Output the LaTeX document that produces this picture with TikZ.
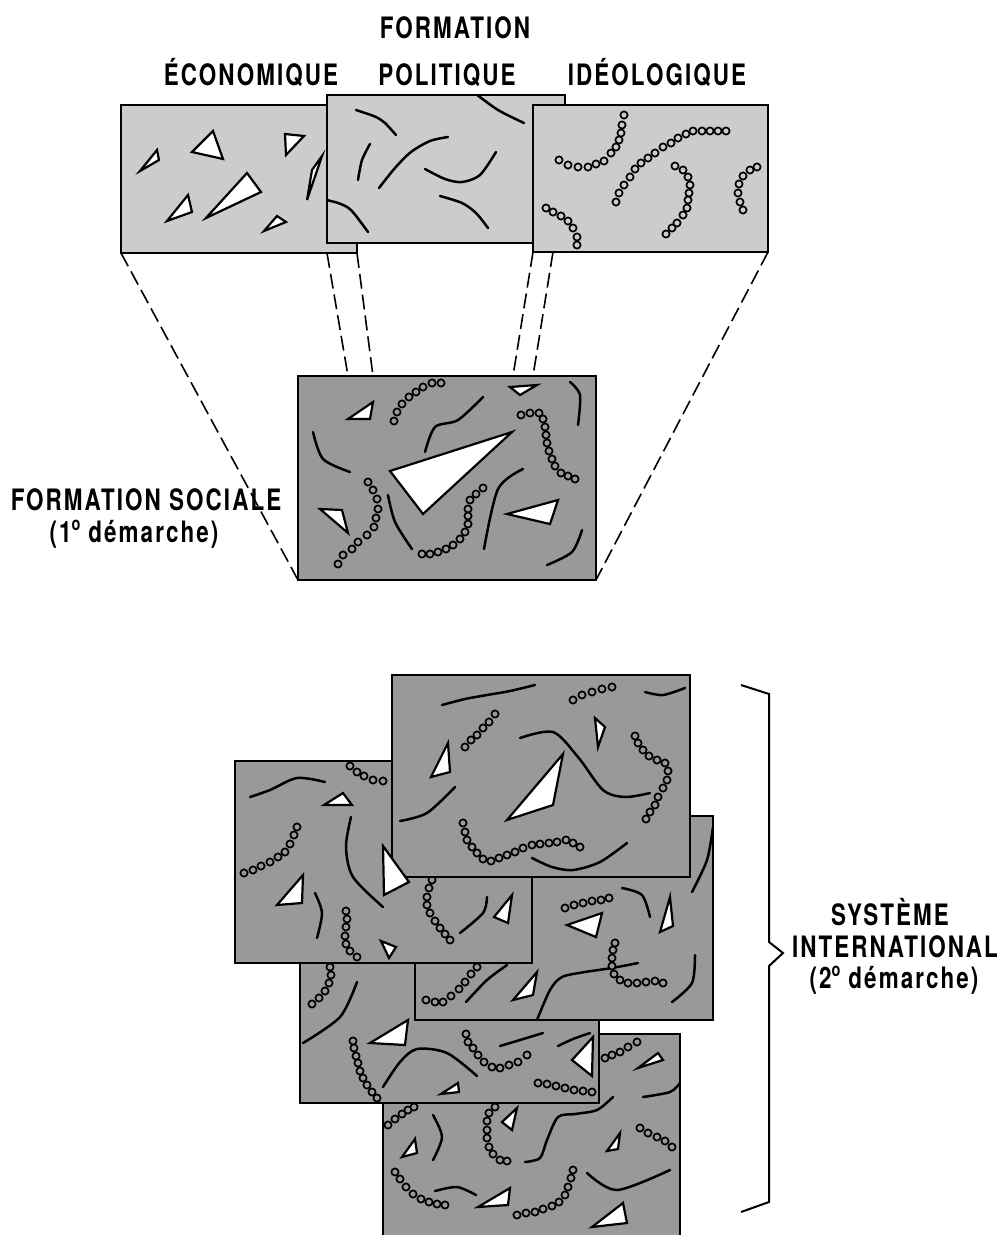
\documentclass[tikz,border=0pt]{standalone}
\usepackage{fontspec}
\newfontfamily\labfont[FakeStretch=0.76,LetterSpace=7]{TeX Gyre Heros}
\definecolor{lightp}{gray}{0.80}
\definecolor{darkp}{gray}{0.60}
\newcommand\myordo{\raisebox{0.7ex}{\fontsize{19}{19}\selectfont o}\hspace{8pt}}
\newcommand\beadchain[2]{\foreach \bp in {#2} {\draw[bead=#1] \bp circle (3.6pt);}}
\tikzset{
  pfill/.style={rectangle, fill=#1, draw=none, inner sep=0pt, outer sep=0pt},
  frame/.style={draw=black, line width=2pt},
  tri/.style={draw=black, fill=white, line width=2.2pt, line join=miter},
  crv/.style={draw=black, line width=2.5pt, line cap=round},
  bead/.style={draw=black, line width=1.7pt, fill=#1},
  proj/.style={draw=black, line width=1.6pt, dash pattern=on 15pt off 6pt},
  lab/.style={font=\labfont\bfseries\fontsize{29.5}{32}\selectfont, inner sep=0pt, anchor=base},
  brace/.style={draw=black, line width=2pt, line join=miter}
}
\begin{document}
\begin{tikzpicture}[x=1pt,y=-1pt]
\useasboundingbox (0,0) rectangle (1008,1235);

% ---------------- labels -----------------
\node[lab] (formation) at (455,38) {FORMATION};
\node[lab] (ecol) at (251,85) {ÉCONOMIQUE};
\node[lab] (poll) at (447,85) {POLITIQUE};
\node[lab] (ideol) at (657,85) {IDÉOLOGIQUE};

% ---------------- economique -----------------
\node[pfill=lightp, minimum width=236pt, minimum height=148pt] (eco) at (239,179) {};
\begin{scope}
\clip (eco.south west) rectangle (eco.north east);
\draw[tri] (140,171) -- (157,150) -- (159,160) -- cycle;
\draw[tri] (192,152) -- (213,131) -- (223,159) -- cycle;
\draw[tri] (285,134) -- (304,136) -- (286,155) -- cycle;
\draw[tri] (307,200) -- (312,170) -- (322,156) -- cycle;
\draw[tri] (206,218) -- (247,173) -- (261,192) -- cycle;
\draw[tri] (167,221) -- (188,195) -- (192,212) -- cycle;
\draw[tri] (264,231) -- (277,216) -- (286,222) -- cycle;
\end{scope}
\draw[frame] (eco.south west) rectangle (eco.north east);

% ---------------- politique -----------------
\node[pfill=lightp, minimum width=238pt, minimum height=148pt] (pol) at (446,169) {};
\begin{scope}
\clip (pol.south west) rectangle (pol.north east);
\draw[crv] plot[smooth] coordinates {(356,110) (365,113) (376,117) (385,123) (396,135)};
\draw[crv] plot[smooth] coordinates {(370,144) (362,160) (358,180)};
\draw[crv] plot[smooth] coordinates {(379,188) (395,168) (411,152) (430,141) (448,137)};
\draw[crv] plot[smooth] coordinates {(425,169) (445,179) (462,182) (480,175) (496,152)};
\draw[crv] plot[smooth] coordinates {(440,196) (462,203) (476,213) (488,228)};
\draw[crv] plot[smooth] coordinates {(322,199) (338,203) (351,210) (368,232)};
\draw[crv] plot[smooth] coordinates {(476,94) (498,110) (524,123)};
\end{scope}
\draw[frame] (pol.south west) rectangle (pol.north east);

% ---------------- ideologique -----------------
\node[pfill=lightp, minimum width=235pt, minimum height=147pt] (ideo) at (650.5,178.5) {};
\begin{scope}
\clip (ideo.south west) rectangle (ideo.north east);
\beadchain{lightp}{(559,160),(568,165),(578,167),(588,167),(596,164),(604,161),(611,153),(616,147),(619,140),(621,133),(622,125),(624,115)}
\beadchain{lightp}{(616,202),(619,193),(624,185),(630,177),(635,169),(641,163),(648,158),(655,153),(663,147),(671,143),(678,138),(686,134),(693,131),(702,131),(710,131),(718,131),(726,131)}
\beadchain{lightp}{(675,166),(683,170),(688,177),(690,185),(689,193),(688,200),(687,208),(683,215),(677,223),(672,228),(666,234)}
\beadchain{lightp}{(546,208),(553,212),(561,216),(568,221),(573,228),(577,237),(577,245)}
\beadchain{lightp}{(757,167),(750,170),(743,176),(739,184),(738,193),(740,202),(743,210)}
\end{scope}
\draw[frame] (ideo.south west) rectangle (ideo.north east);

% ---------------- formation sociale -----------------
\node[pfill=darkp, minimum width=298pt, minimum height=204pt] (soc) at (447,478) {};
\begin{scope}
\clip (soc.south west) rectangle (soc.north east);
\draw[crv] plot[smooth] coordinates {(313,432) (323,459) (350,472)};
\draw[crv] plot[smooth] coordinates {(425,452) (435,427) (458,420) (483,397)};
\draw[crv] plot[smooth] coordinates {(570,382) (580,395) (578,425)};
\draw[crv] plot[smooth] coordinates {(388,495) (395,522) (412,549)};
\draw[crv] plot[smooth] coordinates {(523,469) (498,489) (484,549)};
\draw[crv] plot[smooth] coordinates {(582,530) (572,552) (547,565)};
\draw[tri] (348,419) -- (373,402) -- (370,419) -- cycle;
\draw[tri] (510,387) -- (537,385) -- (520,395) -- cycle;
\draw[tri] (390,471) -- (512,432) -- (423,514) -- cycle;
\draw[tri] (320,509) -- (342,510) -- (348,533) -- cycle;
\draw[tri] (507,514) -- (558,500) -- (550,524) -- cycle;
\beadchain{darkp}{(394,421),(397,412),(402,404),(409,397),(416,392),(423,387),(432,383),(441,383)}
\beadchain{darkp}{(521,415),(530,413),(539,413),(543,419),(545,427),(546,435),(547,443),(549,451),(552,459),(555,466),(561,473),(568,476),(575,479)}
\beadchain{darkp}{(368,482),(373,490),(377,499),(378,509),(376,518),(374,527),(367,535),(358,542),(352,549),(343,555),(338,564)}
\beadchain{darkp}{(483,488),(476,494),(470,500),(468,509),(468,516),(468,524),(465,532),(460,539),(453,545),(446,549),(438,552),(430,554),(422,554)}
\end{scope}
\draw[frame] (soc.south west) rectangle (soc.north east);

% ---------------- projection lines -----------------
\coordinate (e2) at (357,253);
\coordinate (p1) at (327,253);
\coordinate (i2) at (553,252);
\coordinate (s1) at (348,376);
\coordinate (s2) at (373,376);
\coordinate (s3) at (513,376);
\coordinate (s4) at (533,376);
\draw[proj] (eco.south west) -- (soc.south west);
\draw[proj] (p1) -- (s1);
\draw[proj] (e2) -- (s2);
\draw[proj] (ideo.south west) -- (s3);
\draw[proj] (i2) -- (s4);
\draw[proj] (ideo.south east) -- (soc.south east);

\node[lab, align=center, anchor=north] (socl) at (146,488) {FORMATION SOCIALE\\(1\myordo démarche)\hspace*{24pt}};

% ---------------- systeme international -----------------
% panel E (back)
\node[pfill=darkp, minimum width=297pt, minimum height=210pt] (pe) at (531.5,1139) {};
\begin{scope}
\clip (pe.south west) rectangle (pe.north east);
\draw[crv] plot[smooth] coordinates {(643,1097) (670,1092) (680,1083)};
\draw[crv] plot[smooth] coordinates {(613,1097) (597,1110) (575,1114) (558,1117) (547,1140) (540,1158) (525,1162)};
\draw[crv] plot[smooth] coordinates {(433,1115) (442,1137) (433,1160)};
\draw[crv] plot[smooth] coordinates {(435,1191) (457,1187) (476,1195)};
\draw[crv] plot[smooth] coordinates {(587,1173) (617,1190) (670,1170)};
\draw[tri] (638,1068) -- (663,1060) -- (658,1053) -- cycle;
\draw[tri] (402,1157) -- (415,1139) -- (417,1153) -- cycle;
\draw[tri] (502,1122) -- (517,1108) -- (512,1130) -- cycle;
\draw[tri] (607,1151) -- (620,1133) -- (618,1149) -- cycle;
\draw[tri] (478,1207) -- (510,1188) -- (508,1205) -- cycle;
\draw[tri] (592,1227) -- (623,1203) -- (627,1223) -- cycle;
\beadchain{darkp}{(605,1058),(612,1055),(620,1052),(628,1047),(637,1042)}
\beadchain{darkp}{(388,1125),(395,1119),(402,1114),(408,1110),(414,1107)}
\beadchain{darkp}{(495,1107),(489,1113),(487,1121),(487,1130),(487,1138),(489,1147),(493,1154),(500,1160),(507,1161)}
\beadchain{darkp}{(640,1128),(648,1133),(657,1137),(665,1141),(672,1147)}
\beadchain{darkp}{(395,1172),(400,1179),(406,1187),(413,1194),(421,1199),(429,1202),(437,1204),(445,1205)}
\beadchain{darkp}{(517,1215),(526,1213),(535,1212),(543,1209),(552,1206),(559,1202),(565,1195),(568,1187),(571,1178),(573,1170)}
\end{scope}
\draw[frame] (pe.south west) -- (pe.north west) -- (pe.north east) -- (pe.south east);

% panel D
\node[pfill=darkp, minimum width=299pt, minimum height=202pt] (pd) at (449.5,1002) {};
\begin{scope}
\clip (pd.south west) rectangle (pd.north east);
\draw[crv] plot[smooth] coordinates {(357,982) (340,1017) (303,1043)};
\draw[crv] plot[smooth] coordinates {(383,1087) (400,1062) (417,1049) (447,1053) (477,1076)};
\draw[crv] plot[smooth] coordinates {(500,1046) (520,1040) (543,1033)};
\draw[crv] plot[smooth] coordinates {(558,1046) (573,1039) (590,1033)};
\draw[tri] (370,1043) -- (408,1020) -- (405,1045) -- cycle;
\draw[tri] (441,1094) -- (458,1083) -- (459,1092) -- cycle;
\draw[tri] (572,1060) -- (593,1037) -- (592,1076) -- cycle;
\beadchain{darkp}{(330,967),(331,975),(329,983),(325,991),(319,998),(312,1004)}
\beadchain{darkp}{(353,1041),(354,1048),(356,1056),(358,1063),(360,1071),(363,1078),(367,1085),(372,1092),(377,1098)}
\beadchain{darkp}{(466,1034),(468,1042),(473,1048),(478,1055),(484,1062),(492,1067),(500,1068),(509,1065),(518,1062),(527,1055)}
\beadchain{darkp}{(538,1083),(547,1084),(556,1086),(565,1088),(574,1090),(583,1091),(592,1092)}
\end{scope}
\draw[frame] (pd.south west) rectangle (pd.north east);

% panel C
\node[pfill=darkp, minimum width=298pt, minimum height=204pt] (pc) at (564,918) {};
\begin{scope}
\clip (pc.south west) rectangle (pc.north east);
\draw[crv] plot[smooth] coordinates {(713,827) (707,860) (692,892)};
\draw[crv] plot[smooth] coordinates {(622,888) (642,895) (650,917)};
\draw[crv] plot[smooth] coordinates {(537,1020) (550,990) (562,977) (585,972) (612,968) (638,963)};
\draw[crv] plot[smooth] coordinates {(695,955) (692,983) (672,1002)};
\draw[crv] plot[smooth] coordinates {(466,1002) (487,980) (507,965)};
\draw[tri] (660,932) -- (670,897) -- (673,926) -- cycle;
\draw[tri] (567,925) -- (602,913) -- (596,937) -- cycle;
\draw[tri] (513,1000) -- (537,972) -- (533,995) -- cycle;
\beadchain{darkp}{(565,908),(574,905),(583,903),(592,901),(601,900),(609,898)}
\beadchain{darkp}{(615,943),(613,950),(612,958),(612,966),(614,974),(620,980),(628,983),(637,983),(646,982),(655,981),(663,983)}
\beadchain{darkp}{(426,1000),(435,1002),(443,1002),(451,996),(459,989),(465,982),(471,974),(477,967)}
\end{scope}
\draw[frame] (pc.south west) rectangle (pc.north east);

% panel B
\node[pfill=darkp, minimum width=297pt, minimum height=202pt] (pb) at (383.5,862) {};
\begin{scope}
\clip (pb.south west) rectangle (pb.north east);
\draw[crv] plot[smooth] coordinates {(250,797) (270,790) (297,778) (325,782)};
\draw[crv] plot[smooth] coordinates {(351,817) (346,847) (353,877) (383,907)};
\draw[crv] plot[smooth] coordinates {(315,893) (322,913) (317,938)};
\draw[crv] plot[smooth] coordinates {(487,897) (483,913) (460,933)};
\draw[tri] (324,805) -- (343,793) -- (352,805) -- cycle;
\draw[tri] (277,905) -- (303,875) -- (302,903) -- cycle;
\draw[tri] (381,941) -- (396,947) -- (389,958) -- cycle;
\draw[tri] (494,917) -- (512,895) -- (508,923) -- cycle;
\beadchain{darkp}{(350,766),(357,772),(364,776),(373,780),(383,781)}
\beadchain{darkp}{(297,827),(294,835),(290,844),(285,852),(278,857),(270,862),(261,866),(253,870),(244,873)}
\beadchain{darkp}{(346,911),(347,919),(346,927),(345,936),(346,944),(350,951),(357,957)}
\beadchain{darkp}{(432,880),(429,888),(427,897),(427,905),(430,913),(435,921),(440,928),(445,934),(450,940)}
\end{scope}
\draw[frame] (pb.south west) rectangle (pb.north east);

% panel A (front)
\node[pfill=darkp, minimum width=298pt, minimum height=202pt] (pa) at (541,776) {};
\begin{scope}
\clip (pa.south west) rectangle (pa.north east);
\draw[crv] plot[smooth] coordinates {(442,705) (465,699) (487,695) (510,691) (535,685)};
\draw[crv] plot[smooth] coordinates {(645,692) (663,695) (685,688)};
\draw[crv] plot[smooth] coordinates {(520,738) (553,732) (578,757) (603,790) (625,797) (650,793)};
\draw[crv] plot[smooth] coordinates {(400,821) (427,813) (455,787)};
\draw[crv] plot[smooth] coordinates {(532,858) (552,867) (573,870) (600,862) (627,843)};
\draw[tri] (595,718) -- (605,727) -- (598,747) -- cycle;
\draw[tri] (431,777) -- (448,743) -- (450,772) -- cycle;
\draw[tri] (507,820) -- (563,754) -- (553,805) -- cycle;
\beadchain{darkp}{(573,700),(582,695),(592,692),(602,689),(612,687)}
\beadchain{darkp}{(465,747),(471,740),(477,735),(483,728),(489,722),(495,714)}
\beadchain{darkp}{(635,736),(638,743),(643,750),(649,756),(657,760),(665,763),(668,771),(667,780),(663,788),(658,797),(655,805),(650,812),(646,819)}
\beadchain{darkp}{(463,823),(465,832),(467,840),(472,847),(477,853),(483,859),(491,861),(499,858),(507,855),(515,852),(523,848),(532,845),(540,844),(549,843),(557,842),(566,840),(573,843),(580,847)}
\end{scope}
\draw[frame] (pa.south west) rectangle (pa.north east);
\draw[tri] (383,846) -- (384,895) -- (409,882) -- cycle;

% brace and label
\draw[brace] (741,685) -- (769,694) -- (769,942) -- (783,953) -- (769,966) -- (769,1202) -- (741,1212);
\node[lab] (sys1) at (890,925) {SYSTÈME};
\node[lab] (sys2) at (895,957) {INTERNATIONAL};
\node[lab] (sys3) at (894,988) {(2\myordo démarche)};
\end{tikzpicture}
\end{document}
